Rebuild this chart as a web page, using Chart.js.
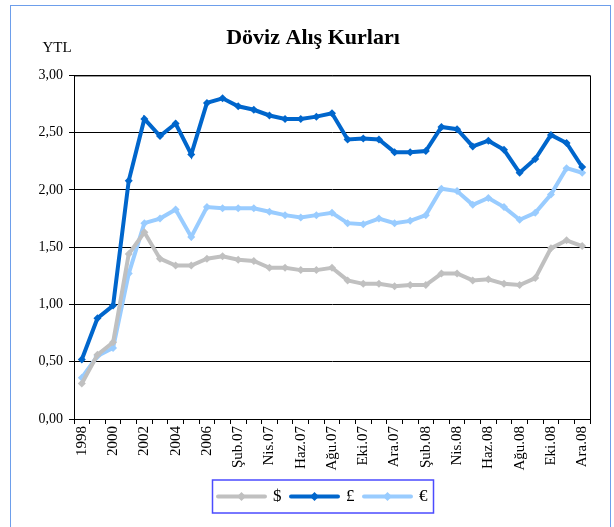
<!DOCTYPE html>
<html>
<head>
<meta charset="utf-8">
<script src="https://cdn.jsdelivr.net/npm/chart.js@4"></script>
<style>
    body { margin: 0; background: #fff; }
    #frame {
        position: absolute; left: 10px; top: 5px; width: 599px; height: 560px;
        border: 1.5px solid #6d9eeb;
    }
    #wrap { position: absolute; left: 0; top: 0; width: 614px; height: 527px; }
</style>
</head>
<body>
<div id="frame"></div>
<div id="wrap"><canvas id="kurChart" width="614" height="527"></canvas></div>
<script>
const labels = [
    '1998', '1999', '2000', '2001', '2002', '2003', '2004', '2005', '2006',
    'Oca.07', 'Şub.07', 'Mar.07', 'Nis.07', 'May.07', 'Haz.07', 'Tem.07', 'Ağu.07', 'Eyl.07', 'Eki.07', 'Kas.07', 'Ara.07',
    'Oca.08', 'Şub.08', 'Mar.08', 'Nis.08', 'May.08', 'Haz.08', 'Tem.08', 'Ağu.08', 'Eyl.08', 'Eki.08', 'Kas.08', 'Ara.08'
];

// $
const usd = [
    0.31, 0.56, 0.67, 1.44, 1.63, 1.40, 1.34, 1.34, 1.40,
    1.42, 1.39, 1.38, 1.32, 1.32, 1.30, 1.30, 1.32, 1.21, 1.18, 1.18, 1.16,
    1.17, 1.17, 1.27, 1.27, 1.21, 1.22, 1.18, 1.17, 1.23, 1.49, 1.56, 1.51
];

// £
const gbp = [
    0.52, 0.88, 0.99, 2.08, 2.62, 2.47, 2.58, 2.31, 2.76,
    2.80, 2.73, 2.70, 2.65, 2.62, 2.62, 2.64, 2.67, 2.44, 2.45, 2.44, 2.33,
    2.33, 2.34, 2.55, 2.53, 2.38, 2.43, 2.35, 2.15, 2.27, 2.48, 2.41, 2.20
];

// €
const eur = [
    0.36, 0.55, 0.62, 1.27, 1.71, 1.75, 1.83, 1.59, 1.85,
    1.84, 1.84, 1.84, 1.81, 1.78, 1.76, 1.78, 1.80, 1.71, 1.70, 1.75, 1.71,
    1.73, 1.78, 2.01, 1.99, 1.87, 1.93, 1.85, 1.74, 1.80, 1.96, 2.19, 2.15
];

const FONT = "'Liberation Serif', 'Times New Roman', serif";

// little line + diamond used as legend symbol
function legendSymbol(color) {
    const c = document.createElement('canvas');
    c.width = 51;
    c.height = 11;
    const g = c.getContext('2d');
    g.strokeStyle = color;
    g.lineWidth = 4;
    g.lineCap = 'round';
    g.beginPath();
    g.moveTo(2, 5.5);
    g.lineTo(49, 5.5);
    g.stroke();
    g.fillStyle = color;
    g.beginPath();
    g.moveTo(25.5, 1);
    g.lineTo(30, 5.5);
    g.lineTo(25.5, 10);
    g.lineTo(21, 5.5);
    g.closePath();
    g.fill();
    return c;
}

function makeSet(label, data, color) {
    return {
        label: label,
        data: data,
        borderColor: color,
        backgroundColor: color,
        borderWidth: 4,
        pointStyle: 'rectRot',
        pointRadius: 4,
        pointBorderWidth: 0,
        pointBackgroundColor: color,
        tension: 0,
        fill: false
    };
}

const extras = {
    id: 'extras',
    afterUpdate(chart) {
        // push legend a bit to the right, like the original
        const lg = chart.legend;
        const dx = 10;
        lg.left += dx;
        lg.right += dx;
        lg.legendHitBoxes.forEach(h => { h.left += dx; });
    },
    afterDraw(chart) {
        const ctx = chart.ctx;
        const a = chart.chartArea;
        ctx.save();
        // plot frame
        ctx.strokeStyle = '#000';
        ctx.lineWidth = 1;
        ctx.strokeRect(a.left + 0.5, a.top + 0.5, a.right - a.left, a.bottom - a.top);
        // YTL label
        ctx.fillStyle = '#000';
        ctx.font = '15px ' + FONT;
        ctx.textAlign = 'center';
        ctx.textBaseline = 'middle';
        ctx.fillText('YTL', a.left - 17, a.top - 27);
        // legend border
        const hb = chart.legend.legendHitBoxes;
        const l = Math.min(...hb.map(h => h.left)) - 6;
        const r = Math.max(...hb.map(h => h.left + h.width)) + 6;
        const t = Math.min(...hb.map(h => h.top)) - 8;
        const b = Math.max(...hb.map(h => h.top + h.height)) + 8;
        ctx.strokeStyle = '#4b4bff';
        ctx.lineWidth = 1.5;
        ctx.strokeRect(l, t, r - l, b - t);
        ctx.restore();
    }
};

new Chart(document.getElementById('kurChart'), {
    type: 'line',
    data: {
        labels: labels,
        datasets: [
            makeSet('$', usd, '#c0c0c0'),
            makeSet('£', gbp, '#0066cc'),
            makeSet('€', eur, '#99ccff')
        ]
    },
    options: {
        responsive: false,
        animation: false,
        layout: { padding: { left: 36, right: 24, top: 0, bottom: 12 } },
        plugins: {
            title: {
                display: true,
                text: 'Döviz Alış Kurları',
                color: '#000',
                font: { family: FONT, size: 22, weight: 'bold' },
                padding: { top: 25, bottom: 24 }
            },
            legend: {
                position: 'bottom',
                labels: {
                    color: '#000',
                    font: { family: FONT, size: 17 },
                    usePointStyle: true,
                    pointStyleWidth: 46,
                    padding: 10,
                    generateLabels(chart) {
                        return chart.data.datasets.map((ds, i) => ({
                            text: ds.label,
                            pointStyle: legendSymbol(ds.borderColor),
                            fillStyle: ds.borderColor,
                            strokeStyle: ds.borderColor,
                            lineWidth: 0,
                            fontColor: '#000',
                            hidden: false,
                            datasetIndex: i
                        }));
                    }
                }
            },
            tooltip: { enabled: false }
        },
        scales: {
            x: {
                offset: true,
                grid: {
                    offset: true,
                    drawOnChartArea: false,
                    drawTicks: true,
                    tickLength: 5,
                    color: '#000'
                },
                border: { color: '#000', width: 1 },
                ticks: {
                    autoSkip: false,
                    maxRotation: 90,
                    minRotation: 90,
                    padding: 2,
                    color: '#000',
                    font: { family: FONT, size: 15 },
                    callback: function (v, i) { return i % 2 === 0 ? this.getLabelForValue(v) : ''; }
                },
                afterFit(scale) { scale.height = 59; }
            },
            y: {
                min: 0,
                max: 3,
                grid: { color: '#000', tickLength: 5 },
                border: { color: '#000', width: 1 },
                ticks: {
                    stepSize: 0.5,
                    padding: 6,
                    color: '#000',
                    font: { family: FONT, size: 14 },
                    callback: v => v.toFixed(2).replace('.', ',')
                },
                afterFit(scale) { scale.width = 38; }
            }
        }
    },
    plugins: [extras]
});
</script>
</body>
</html>
